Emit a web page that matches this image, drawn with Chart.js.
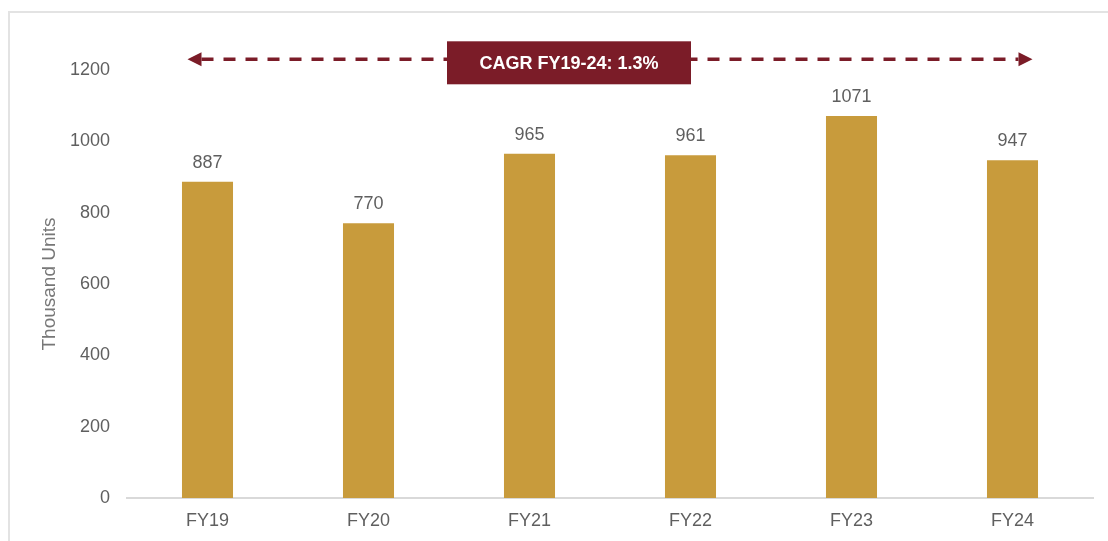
<!DOCTYPE html>
<html>
<head>
<meta charset="utf-8">
<script src="https://cdn.jsdelivr.net/npm/chart.js@4.4.1/dist/chart.umd.min.js"></script>
<style>
  html, body { margin: 0; padding: 0; background: #ffffff; }
  #wrap { width: 1108px; height: 541px; position: relative; }
</style>
</head>
<body>
<div id="wrap"><canvas id="c" width="1108" height="541"></canvas></div>
<script>
const categories = ["FY19", "FY20", "FY21", "FY22", "FY23", "FY24"];
const values = [887, 770, 965, 961, 1071, 947];
const yTicks = [0, 200, 400, 600, 800, 1000, 1200];
const cagrLabel = "CAGR FY19-24: 1.3%";
const yTitle = "Thousand Units";

const FONT = "'Liberation Sans', Arial, sans-serif";
const BAR = "#C89B3C";
const MAROON = "#7B1C28";
const GREY = "#5f5f5f";

const framePlugin = {
  id: 'frame',
  beforeDraw(chart) {
    const ctx = chart.ctx;
    ctx.save();
    ctx.fillStyle = '#ffffff';
    ctx.fillRect(0, 0, chart.width, chart.height);
    ctx.strokeStyle = '#e3e3e3';
    ctx.lineWidth = 2;
    ctx.beginPath();
    ctx.moveTo(9, chart.height);
    ctx.lineTo(9, 12);
    ctx.lineTo(chart.width, 12);
    ctx.stroke();
    ctx.restore();
  }
};

const labelPlugin = {
  id: 'barLabels',
  afterDatasetsDraw(chart) {
    const ctx = chart.ctx;
    const meta = chart.getDatasetMeta(0);
    ctx.save();
    ctx.font = "18px " + FONT;
    ctx.fillStyle = GREY;
    ctx.textAlign = 'center';
    ctx.textBaseline = 'bottom';
    meta.data.forEach((bar, i) => {
      ctx.fillText(String(values[i]), bar.x, bar.y - 10);
    });
    ctx.restore();
  }
};

const cagrPlugin = {
  id: 'cagr',
  afterDraw(chart) {
    const ctx = chart.ctx;
    const xs = chart.scales.x, ys = chart.scales.y;
    const x0 = xs.getPixelForValue(0) - 20;
    const x1 = xs.getPixelForValue(categories.length - 1) + 20;
    const y = ys.getPixelForValue(1230);
    ctx.save();
    ctx.strokeStyle = MAROON;
    ctx.fillStyle = MAROON;
    ctx.lineWidth = 3.5;
    ctx.setLineDash([12, 10]);
    ctx.beginPath();
    ctx.moveTo(x0 + 14, y);
    ctx.lineTo(x1 - 14, y);
    ctx.stroke();
    ctx.setLineDash([]);
    ctx.beginPath();
    ctx.moveTo(x0, y);
    ctx.lineTo(x0 + 14, y - 7);
    ctx.lineTo(x0 + 14, y + 7);
    ctx.closePath();
    ctx.fill();
    ctx.beginPath();
    ctx.moveTo(x1, y);
    ctx.lineTo(x1 - 14, y - 7);
    ctx.lineTo(x1 - 14, y + 7);
    ctx.closePath();
    ctx.fill();
    const bx = 447, bw = 244, bh = 43;
    const by = y - 18;
    ctx.fillRect(bx, by, bw, bh);
    ctx.fillStyle = '#ffffff';
    ctx.font = "bold 18px " + FONT;
    ctx.textAlign = 'center';
    ctx.textBaseline = 'middle';
    ctx.fillText(cagrLabel, bx + bw / 2, by + bh / 2 + 1);
    ctx.restore();
  }
};

new Chart(document.getElementById('c'), {
  type: 'bar',
  data: {
    labels: categories,
    datasets: [{
      data: values,
      backgroundColor: BAR,
      borderWidth: 0,
      barPercentage: 0.317,
      categoryPercentage: 1.0
    }]
  },
  options: {
    responsive: false,
    animation: false,
    devicePixelRatio: 1,
    layout: { padding: { top: 70, right: 15, bottom: 0, left: 38 } },
    plugins: {
      legend: { display: false },
      tooltip: { enabled: false },
      title: { display: false }
    },
    scales: {
      x: {
        grid: { display: false, drawTicks: false },
        border: { display: true, color: '#d9d9d9', width: 2 },
        ticks: { color: GREY, font: { family: FONT, size: 18 }, padding: 12 },
        afterFit(s) { s.height = 43; }
      },
      y: {
        min: 0,
        max: 1200,
        afterBuildTicks(s) { s.ticks = yTicks.map(v => ({ value: v })); },
        grid: { display: false, drawTicks: false },
        border: { display: false },
        ticks: {
          color: GREY,
          font: { family: FONT, size: 18 },
          padding: 17,
          callback: (v) => String(v)
        },
        title: {
          display: true,
          text: yTitle,
          color: '#777777',
          font: { family: FONT, size: 19 },
          padding: 0
        },
        afterFit(s) { s.width = 89; }
      }
    }
  },
  plugins: [framePlugin, labelPlugin, cagrPlugin]
});
</script>
</body>
</html>
